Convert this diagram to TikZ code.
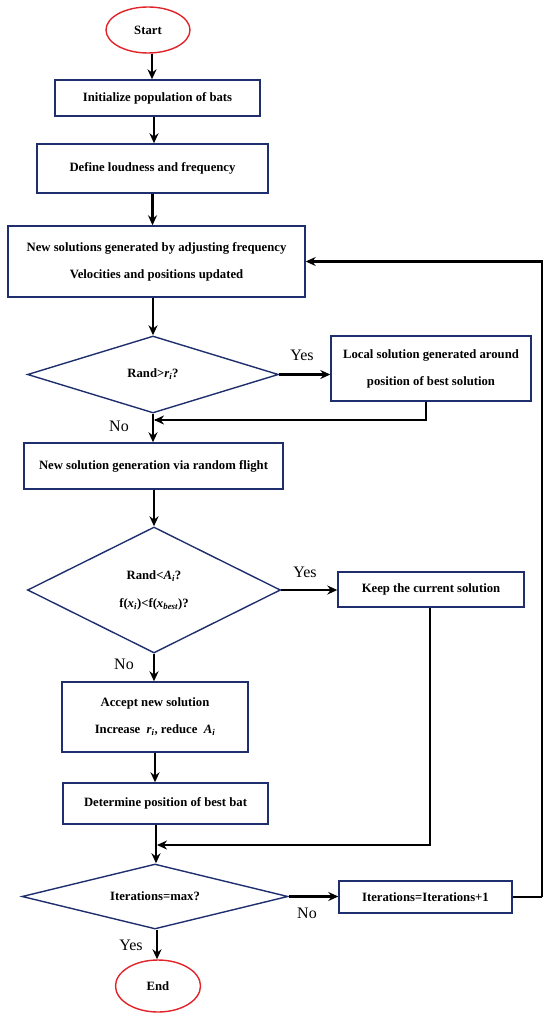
\documentclass[tikz,border=0pt]{standalone}
\usepackage{fontspec}
\setmainfont{Liberation Serif}
\usetikzlibrary{shapes.geometric,arrows.meta,calc}
\definecolor{navy}{HTML}{1F2F6E}
\definecolor{termred}{HTML}{E0242A}
\newcommand{\iv}[2]{\textit{#1\textsubscript{#2}}}
\begin{document}
\begin{tikzpicture}[x=1pt,y=-1pt,
  boxnode/.style={draw=navy,line width=1.4pt,rectangle,inner sep=0pt,align=center,
    font=\fontsize{12.7}{27}\selectfont\bfseries},
  decnode/.style={draw=navy,line width=1.4pt,diamond,aspect=4,inner sep=0pt,align=center,
    font=\fontsize{12.7}{28}\selectfont\bfseries},
  termnode/.style={draw=termred,line width=1.4pt,ellipse,inner sep=0pt,
    font=\fontsize{12.7}{14}\selectfont\bfseries},
  lbl/.style={font=\fontsize{16}{18}\selectfont,inner sep=0pt},
  arr/.style={line width=2.4pt,-{Stealth[length=10pt,width=9pt]}},
  ln/.style={line width=2.4pt}]
\useasboundingbox (0,0) rectangle (550,1019);

\node[termnode,minimum width=84pt,minimum height=46pt] (start) at (148,30) {Start};
\node[boxnode,minimum width=205pt,minimum height=36pt] (b1) at (157.5,98) {Initialize population of bats};
\node[boxnode,minimum width=231pt,minimum height=49pt] (b2) at (152.5,168.5) {Define loudness and frequency};
\node[boxnode,minimum width=297pt,minimum height=71pt] (b3) at (156.5,261.5) {New solutions generated by adjusting frequency\\Velocities and positions updated};
\node[decnode,minimum width=251pt,minimum height=77pt] (d1) at (153,374.5) {Rand>\iv{r}{i}?};
\node[boxnode,minimum width=200pt,minimum height=65pt] (b4) at (431,368.5) {Local solution generated around\\position of best solution};
\node[boxnode,minimum width=259pt,minimum height=46pt] (b5) at (153.5,466) {New solution generation via random flight};
\node[decnode,aspect=2,minimum width=253pt,minimum height=126pt] (d2) at (154,590) {Rand<\iv{A}{i}?\\f(\iv{x}{i})<f(\iv{x}{best})?};
\node[boxnode,minimum width=186pt,minimum height=35pt] (b6) at (431,589.5) {Keep the current solution};
\node[boxnode,minimum width=186pt,minimum height=70pt] (b7) at (155,717) {Accept new solution\\Increase~ \iv{r}{i}, reduce~ \iv{A}{i}};
\node[boxnode,minimum width=205pt,minimum height=41pt] (b8) at (165.5,803.5) {Determine position of best bat};
\node[decnode,minimum width=266pt,minimum height=65pt] (d3) at (155,896.5) {Iterations=max?};
\node[boxnode,minimum width=173pt,minimum height=32pt] (b9) at (425.5,897) {Iterations=Iterations+1};
\node[termnode,minimum width=85pt,minimum height=52pt] (end) at (158,986) {End};

\coordinate (m1) at (153,420);
\coordinate (m2) at (156,845);
\coordinate (rc) at (542,897);

\draw[arr] ($(start.south)+(4,0)$) -- ($(start.south |- b1.north)+(4,0)$);
\draw[arr] ($(b1.south)+(-3.5,0)$) -- ($(b1.south |- b2.north)+(-3.5,0)$);
\draw[arr] (b2.south) -- (b2.south |- b3.north);
\draw[arr] ($(b3.south)+(-3.5,0)$) -- (d1.north);
\draw[arr] (d1.east) -- (d1.east -| b4.west);
\draw[ln] ($(b4.south)+(-5,0)$) |- ($(m1)+(2,0)$);
\draw[arr] ($(m1)+(100,0)$) -- ($(m1)+(1,0)$);
\draw[arr] (d1.south) -- (d1.south |- b5.north);
\draw[arr] ($(b5.south)+(0.5,0)$) -- (d2.north);
\draw[arr] (d2.east) -- (d2.east -| b6.west);
\draw[arr] (d2.south) -- (d2.south |- b7.north);
\draw[arr] (b7.south) -- (b7.south |- b8.north);
\draw[arr] ($(b8.south)+(-9.5,0)$) -- ($(d3.north)+(1,0)$);
\draw[ln] ($(b6.south)+(-1,0)$) |- ($(m2)+(30,0)$);
\draw[arr] ($(m2)+(100,0)$) -- ($(m2)+(1,0)$);
\draw[arr] (d3.east) -- (d3.east -| b9.west);
\draw[arr] ($(d3.south)+(2,0)$) -- ($(d3.south |- end.north)+(2,0)$);
\draw[ln] (b9.east) -- (rc);
\draw[arr] (rc) |- (b3.east);

\node[lbl] (y1) at (302,355) {Yes};
\node[lbl] (n1) at (119,426) {No};
\node[lbl] (y2) at (305,572) {Yes};
\node[lbl] (n2) at (124,664) {No};
\node[lbl] (n3) at (307,913) {No};
\node[lbl] (y3) at (131,945) {Yes};
\end{tikzpicture}
\end{document}
